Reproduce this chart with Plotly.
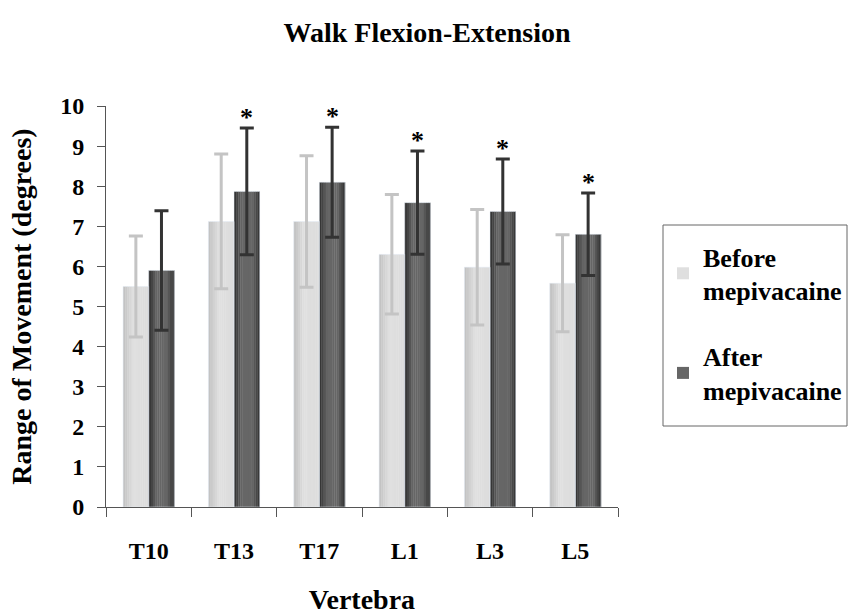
import plotly.graph_objects as go

categories = ["T10", "T13", "T17", "L1", "L3", "L5"]
before = [5.50, 7.12, 7.12, 6.30, 5.98, 5.58]
before_err = [1.26, 1.68, 1.64, 1.49, 1.44, 1.21]
after = [5.90, 7.87, 8.10, 7.59, 7.37, 6.80]
after_err = [1.49, 1.58, 1.37, 1.29, 1.31, 1.03]
significant = [False, True, True, True, True, True]

FONT = "Liberation Serif"
BW = 0.3
N = 12


def interp(stops, t):
    for (t0, c0), (t1, c1) in zip(stops, stops[1:]):
        if t0 <= t <= t1:
            f = (t - t0) / (t1 - t0) if t1 > t0 else 0
            v = round(c0 + (c1 - c0) * f)
            return f"rgb({v},{v},{v})"
    v = stops[-1][1]
    return f"rgb({v},{v},{v})"


before_stops = [(0.0, 0xC0), (0.4, 0xE0), (1.0, 0xDC)]
after_stops = [(0.0, 0x2E), (0.3, 0x66), (0.7, 0x66), (1.0, 0x32)]

fig = go.Figure()


def add_gradient(vals, start, stops, name, legend_idx):
    for i in range(N):
        t = (i + 0.5) / N
        fig.add_trace(go.Bar(
            x=categories, y=vals,
            width=BW / N * 1.15, offset=start + i * BW / N,
            marker=dict(color=interp(stops, t), line=dict(width=0)),
            name=name, legendgroup=name,
            showlegend=(i == legend_idx), hoverinfo="skip",
        ))


add_gradient(before, -BW, before_stops, "Before<br>mepivacaine", 6)
add_gradient(after, 0.0, after_stops, "After<br>mepivacaine", 5)

fig.add_trace(go.Bar(
    x=categories, y=before, width=BW, offset=-BW,
    marker=dict(color="rgba(0,0,0,0)"), showlegend=False, hoverinfo="skip",
    error_y=dict(type="data", array=before_err, color="#c4c4c4", thickness=3, width=7),
))
fig.add_trace(go.Bar(
    x=categories, y=after, width=BW, offset=0.0,
    marker=dict(color="rgba(0,0,0,0)"), showlegend=False, hoverinfo="skip",
    error_y=dict(type="data", array=after_err, color="#333333", thickness=3, width=7),
))

for i, s in enumerate(significant):
    if s:
        fig.add_annotation(
            x=i + BW / 2, y=after[i] + after_err[i], xref="x", yref="y",
            text="*", showarrow=False, yanchor="bottom", yshift=-6,
            font=dict(family=FONT, size=26, color="black", weight="bold"),
        )

# legend frame
fig.add_shape(type="rect", xref="paper", yref="paper",
              x0=(663 - 106) / 512, x1=(847 - 106) / 512,
              y0=(507 - 426) / 401, y1=(507 - 225) / 401,
              line=dict(color="#666666", width=1), fillcolor="rgba(0,0,0,0)",
              layer="above")

fig.update_layout(
    width=854, height=615,
    margin=dict(l=106, r=236, t=106, b=108),
    paper_bgcolor="white", plot_bgcolor="white",
    barmode="overlay", bargap=0.4,
    font=dict(family=FONT, color="black", size=24, weight="bold"),
    title=dict(text="<b>Walk Flexion-Extension</b>", x=0.5, xref="container",
               y=0.947, yanchor="middle", font=dict(family=FONT, size=28, color="black")),
    showlegend=True,
    legend=dict(xref="container", yref="container", x=663 / 854, y=1 - 233 / 615,
                xanchor="left", yanchor="top",
                borderwidth=0, bgcolor="rgba(0,0,0,0)",
                font=dict(family=FONT, size=26, color="black", weight="bold"),
                tracegroupgap=29, itemwidth=30),
    xaxis=dict(
        type="category", range=[-0.5, 5.5], automargin=False,
        showline=True, linecolor="#555555", linewidth=1,
        ticks="outside", ticklen=9, tickcolor="#555555", tickson="boundaries",
        tickfont=dict(family=FONT, size=24, color="black", weight="bold"),
        ticklabelstandoff=22,
        title=dict(text="Vertebra", standoff=30,
                   font=dict(family=FONT, size=28, color="black", weight="bold")),
        showgrid=False, zeroline=False,
    ),
    yaxis=dict(
        range=[0, 10], dtick=1, automargin=False,
        showline=True, linecolor="#555555", linewidth=1,
        ticks="outside", ticklen=8, tickcolor="#555555",
        tickfont=dict(family=FONT, size=24, color="black", weight="bold"),
        ticklabelstandoff=8,
        title=dict(text="Range of Movement (degrees)", standoff=20,
                   font=dict(family=FONT, size=28, color="black", weight="bold")),
        showgrid=False, zeroline=False,
    ),
)

fig.write_html("out.html")
